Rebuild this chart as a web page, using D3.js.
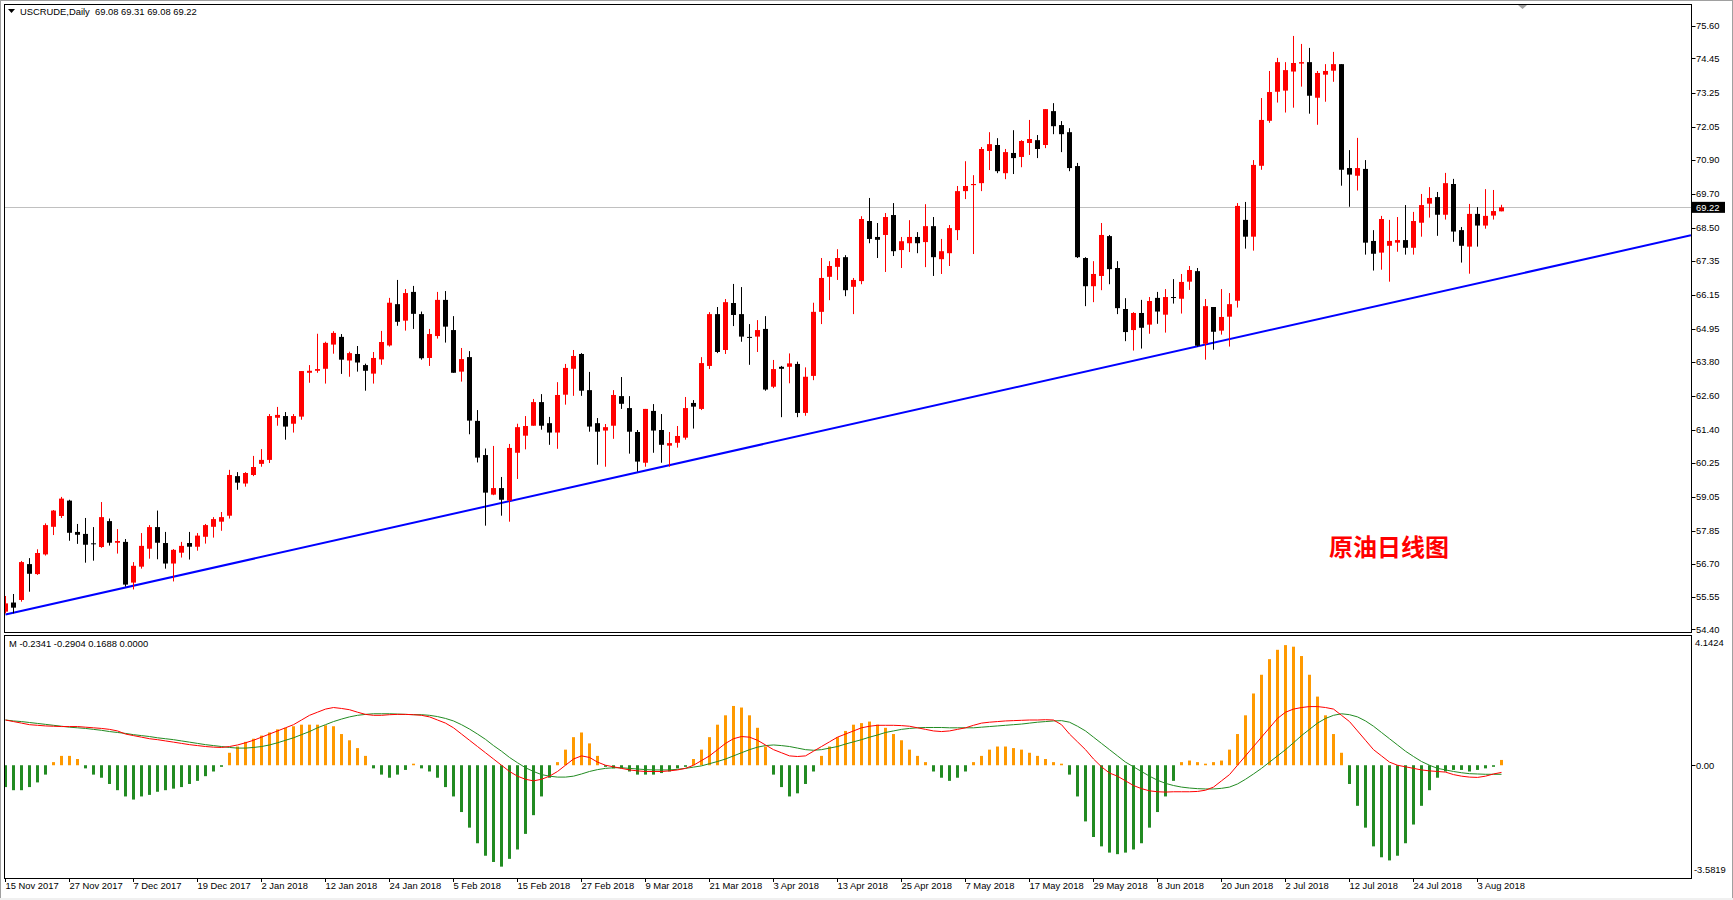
<!DOCTYPE html>
<html>
<head>
<meta charset="utf-8">
<script src="https://cdn.jsdelivr.net/npm/d3@7"></script>
<style>
  body { margin: 0; background: #ffffff; }
  svg { display: block; }
  text { font-family: "Liberation Sans", "DejaVu Sans", sans-serif; font-size: 9.4px; fill: #000; white-space: pre; }
</style>
</head>
<body>
<svg id="chart" width="1733" height="900"></svg>
<script>
// USCRUDE daily candles, 15 Nov 2017 .. 8 Aug 2018
const opens = [
  55.02,55.34,55.43,56.69,56.34,57.03,58.00,58.38,58.92,57.82,
  57.75,57.42,57.29,58.20,57.44,57.47,56.04,56.60,57.23,57.99,
  57.43,56.71,57.09,57.43,57.30,57.65,58.00,58.18,58.39,59.78,
  59.52,59.82,60.21,60.35,61.83,61.89,61.62,61.87,63.41,63.48,
  63.55,64.40,64.67,63.84,64.07,63.68,63.38,63.88,64.37,65.82,
  65.24,66.25,65.47,63.93,64.70,65.97,64.91,63.45,63.96,61.72,
  60.52,59.13,59.36,58.92,60.60,61.20,61.55,62.38,61.64,61.31,
  62.64,63.55,64.07,62.80,61.64,61.38,61.55,62.59,62.17,61.33,
  60.25,62.07,61.40,60.85,60.95,61.13,62.35,62.14,63.65,65.47,
  64.21,65.86,65.47,64.67,64.68,64.95,62.92,63.62,63.62,63.72,
  62.00,63.30,65.55,66.78,67.13,67.47,66.43,66.63,68.74,68.18,
  68.25,68.95,67.72,67.96,68.18,68.00,68.56,67.40,67.61,68.42,
  69.79,70.00,70.07,71.20,71.41,70.42,71.13,70.99,71.48,71.58,
  71.41,72.60,72.11,71.86,70.67,67.44,66.45,66.81,68.21,67.09,
  65.65,64.91,65.51,65.10,66.04,65.45,66.07,66.01,66.61,66.98,
  64.43,65.72,64.89,65.38,65.94,68.78,68.19,70.68,72.26,73.28,
  73.32,73.99,74.27,74.32,73.07,73.88,74.02,74.25,70.60,70.33,
  70.57,68.04,67.63,67.87,67.98,68.07,67.80,68.68,69.35,69.58,
  68.96,70.04,68.42,67.84,68.99,68.58,68.93,69.08
];
const highs = [
  55.57,55.64,56.80,56.90,57.21,58.12,58.59,59.05,58.95,58.10,
  58.31,57.99,58.87,58.29,57.92,57.57,56.76,57.78,58.06,58.57,
  57.82,57.22,57.47,57.82,57.78,58.10,58.34,58.52,60.00,59.92,
  59.92,60.49,60.73,61.96,62.21,62.03,61.96,63.47,63.68,64.78,
  64.50,64.87,64.77,64.15,64.35,63.73,64.14,64.88,66.04,66.67,
  66.35,66.46,65.56,64.95,66.25,66.28,65.40,64.28,64.17,62.10,
  60.75,60.84,59.75,60.91,61.62,61.89,62.49,62.66,61.86,63.08,
  63.72,64.21,64.10,63.44,61.82,61.61,62.80,63.26,62.59,61.40,
  62.14,62.31,61.96,61.33,61.54,62.56,62.45,63.96,65.54,65.72,
  66.00,66.53,66.42,65.12,65.26,65.40,63.86,63.65,64.09,63.80,
  63.60,65.87,67.44,67.33,67.75,67.54,66.74,68.91,69.55,68.67,
  69.02,69.37,68.18,68.77,68.35,69.33,68.88,68.11,68.60,69.97,
  70.84,70.35,71.34,71.86,71.65,71.27,71.93,71.58,72.29,71.76,
  72.67,72.88,72.25,72.00,70.78,67.47,67.33,68.67,68.25,67.33,
  66.03,65.54,65.97,66.07,66.25,66.35,66.70,66.88,67.16,67.09,
  66.00,65.72,66.35,66.21,69.37,69.41,70.88,73.06,74.01,74.47,
  74.32,75.24,74.96,74.82,74.01,74.25,74.68,74.25,71.23,71.66,
  70.88,68.42,68.92,68.78,68.88,69.30,69.06,69.69,69.93,69.76,
  70.43,70.22,68.53,69.34,69.23,69.86,69.83,69.31
];
const lows = [
  54.96,54.96,55.37,55.72,56.31,56.99,57.71,58.31,57.51,57.40,
  56.74,56.81,57.26,57.34,57.06,55.90,55.80,56.53,56.88,56.86,
  56.53,56.08,56.92,56.85,57.16,57.41,57.62,57.86,58.29,59.30,
  59.41,59.78,60.11,60.24,61.55,61.06,61.31,61.76,63.06,63.41,
  63.03,64.08,63.37,63.27,63.45,62.78,63.03,63.69,64.33,65.06,
  64.89,64.95,63.87,63.65,64.61,64.47,63.41,63.10,61.25,60.26,
  58.04,59.11,58.39,58.18,59.68,60.72,61.55,61.41,60.88,60.74,
  62.29,62.60,62.60,61.34,60.18,60.11,61.09,62.14,60.57,59.94,
  60.11,60.60,60.25,60.11,60.78,61.06,61.45,62.10,63.54,64.10,
  64.07,65.05,64.50,63.69,64.14,62.78,62.87,61.85,63.04,61.85,
  61.90,63.15,65.12,65.96,66.67,66.10,65.47,66.52,67.96,67.44,
  66.95,67.51,67.09,67.65,67.61,67.12,66.81,66.88,67.16,68.07,
  69.51,67.58,69.79,70.53,70.42,70.21,70.39,70.63,71.06,70.95,
  71.30,71.79,71.16,70.49,67.44,65.75,65.89,66.31,66.52,65.47,
  64.52,64.19,64.26,64.78,65.13,64.82,65.84,65.49,66.32,64.33,
  63.87,64.22,64.75,64.33,65.70,67.77,67.70,70.54,72.19,72.90,
  72.55,72.72,73.46,72.51,72.12,72.93,73.63,69.98,69.24,69.81,
  67.56,67.00,67.03,66.61,67.66,67.56,67.56,68.19,68.86,68.22,
  68.79,68.01,67.28,66.89,67.84,68.47,68.79,69.08
];
const closes = [
  55.31,55.16,56.76,56.35,57.08,58.06,58.57,58.99,57.79,57.72,
  57.37,57.42,58.34,57.44,57.50,55.97,56.63,57.33,57.99,57.44,
  56.71,57.19,57.33,57.30,57.69,58.06,58.27,58.34,59.82,59.55,
  59.89,60.10,60.35,61.89,61.93,61.52,61.89,63.47,63.48,63.54,
  64.46,64.81,63.87,64.10,63.77,63.48,63.93,64.49,65.87,65.20,
  66.21,65.48,63.92,64.77,65.97,65.03,63.41,63.89,61.73,60.43,
  59.20,59.36,58.95,60.77,61.50,61.54,62.38,61.55,61.31,62.63,
  63.58,64.00,62.78,61.52,61.34,61.50,62.63,62.32,61.34,60.29,
  62.14,61.38,60.88,60.94,61.19,62.17,62.22,63.75,65.47,64.14,
  65.89,65.44,64.68,64.67,64.91,62.82,63.54,63.55,63.74,62.00,
  63.27,65.55,66.74,67.16,67.44,66.31,66.67,68.81,68.11,68.08,
  68.88,67.68,68.03,68.18,67.96,68.56,67.47,67.68,68.49,69.79,
  69.97,70.04,71.27,71.44,70.49,71.16,70.95,71.55,71.62,71.27,
  72.67,72.07,71.79,70.60,67.47,66.45,66.88,68.25,67.05,65.68,
  64.84,65.51,64.99,65.93,65.56,66.07,66.07,66.60,67.02,64.36,
  65.75,64.85,65.37,65.82,69.27,68.19,70.71,72.29,73.27,74.32,
  74.04,74.29,74.32,73.14,73.94,74.01,74.25,70.54,70.37,70.60,
  67.98,67.59,68.81,68.04,68.07,67.80,68.74,69.30,69.55,68.96,
  70.07,68.37,67.87,68.99,68.58,68.92,69.09,69.22
];

// MACD pane: histogram, fast line (red) and signal line (green)
const macdHist = [
  -0.7,-0.8,-0.8,-0.7,-0.55,-0.3,0.1,0.3,0.3,0.2,
  -0.1,-0.3,-0.4,-0.6,-0.8,-1.0,-1.1,-1.0,-0.95,-0.85,
  -0.8,-0.75,-0.7,-0.6,-0.5,-0.35,-0.2,-0.05,0.4,0.6,
  0.75,0.85,0.95,1.05,1.15,1.2,1.25,1.3,1.3,1.3,
  1.28,1.25,1.0,0.8,0.55,0.3,-0.1,-0.3,-0.4,-0.3,
  -0.15,0.05,-0.1,-0.2,-0.4,-0.7,-1.0,-1.5,-2.0,-2.5,
  -2.9,-3.1,-3.25,-3.0,-2.7,-2.2,-1.6,-1.0,-0.4,0.1,
  0.5,0.9,1.05,0.7,0.3,-0.05,-0.1,-0.1,-0.2,-0.3,
  -0.3,-0.3,-0.25,-0.2,-0.1,-0.05,0.2,0.5,0.9,1.3,
  1.6,1.9,1.85,1.6,1.2,0.6,-0.3,-0.7,-1.0,-0.9,
  -0.6,-0.2,0.3,0.6,0.9,1.1,1.3,1.35,1.4,1.3,
  1.2,1.0,0.8,0.5,0.3,0.1,-0.2,-0.4,-0.5,-0.4,
  -0.2,0.1,0.3,0.5,0.6,0.6,0.55,0.5,0.4,0.3,
  0.2,0.1,0.05,-0.3,-1.0,-1.8,-2.3,-2.6,-2.8,-2.85,
  -2.8,-2.7,-2.5,-2.0,-1.5,-1.0,-0.5,0.1,0.15,0.1,
  0.05,0.1,0.15,0.5,1.0,1.6,2.3,2.9,3.4,3.7,
  3.85,3.8,3.5,2.9,2.2,1.6,1.0,0.4,-0.6,-1.3,
  -2.0,-2.6,-2.95,-3.05,-2.9,-2.5,-1.9,-1.3,-0.8,-0.4,
  -0.2,-0.15,-0.15,-0.2,-0.15,-0.1,-0.05,0.17
];
const macdMain = [
  1.45,1.4,1.35,1.3,1.28,1.26,1.25,1.24,1.24,1.24,
  1.22,1.2,1.18,1.15,1.1,1.0,0.95,0.9,0.85,0.82,
  0.78,0.74,0.7,0.66,0.63,0.6,0.58,0.57,0.6,0.65,
  0.72,0.8,0.9,1.0,1.1,1.2,1.3,1.45,1.6,1.7,
  1.8,1.85,1.82,1.78,1.7,1.63,1.6,1.6,1.62,1.63,
  1.63,1.62,1.6,1.55,1.45,1.35,1.2,1.0,0.8,0.6,
  0.4,0.2,0.0,-0.2,-0.35,-0.45,-0.5,-0.45,-0.35,-0.2,
  0.0,0.2,0.3,0.25,0.1,0.0,-0.05,-0.1,-0.15,-0.18,
  -0.2,-0.2,-0.2,-0.18,-0.15,-0.1,0.0,0.15,0.3,0.5,
  0.7,0.85,0.92,0.9,0.8,0.65,0.5,0.4,0.3,0.28,
  0.3,0.45,0.6,0.75,0.9,1.0,1.1,1.2,1.25,1.28,
  1.28,1.28,1.27,1.25,1.2,1.15,1.1,1.08,1.1,1.15,
  1.2,1.28,1.35,1.38,1.4,1.42,1.43,1.44,1.45,1.45,
  1.46,1.45,1.3,1.0,0.75,0.5,0.2,-0.05,-0.25,-0.35,
  -0.5,-0.65,-0.75,-0.82,-0.85,-0.86,-0.85,-0.85,-0.85,-0.84,
  -0.8,-0.7,-0.5,-0.3,0.0,0.3,0.6,0.9,1.2,1.5,
  1.7,1.8,1.85,1.88,1.88,1.85,1.8,1.6,1.4,1.1,
  0.8,0.5,0.3,0.1,0.0,-0.05,-0.1,-0.15,-0.18,-0.2,
  -0.22,-0.3,-0.35,-0.38,-0.39,-0.35,-0.28,-0.23
];
const macdSignal = [
  1.45,1.42,1.4,1.37,1.34,1.31,1.28,1.25,1.22,1.2,
  1.18,1.15,1.12,1.08,1.05,1.02,0.98,0.95,0.92,0.88,
  0.85,0.82,0.78,0.74,0.7,0.66,0.63,0.6,0.57,0.55,
  0.55,0.57,0.6,0.65,0.72,0.8,0.88,0.98,1.08,1.2,
  1.3,1.4,1.48,1.55,1.6,1.63,1.65,1.65,1.65,1.64,
  1.63,1.62,1.62,1.6,1.56,1.5,1.42,1.3,1.16,1.0,
  0.83,0.63,0.45,0.25,0.08,-0.08,-0.2,-0.3,-0.35,-0.38,
  -0.38,-0.35,-0.28,-0.2,-0.14,-0.1,-0.08,-0.08,-0.1,-0.12,
  -0.14,-0.15,-0.15,-0.15,-0.13,-0.1,-0.06,-0.02,0.05,0.12,
  0.2,0.3,0.4,0.5,0.58,0.63,0.65,0.63,0.6,0.55,
  0.5,0.48,0.5,0.55,0.6,0.68,0.75,0.82,0.9,0.97,
  1.05,1.1,1.15,1.18,1.2,1.21,1.21,1.21,1.2,1.2,
  1.2,1.2,1.22,1.24,1.26,1.28,1.3,1.32,1.35,1.38,
  1.4,1.42,1.43,1.38,1.25,1.1,0.9,0.7,0.5,0.3,
  0.1,-0.05,-0.2,-0.35,-0.48,-0.58,-0.65,-0.7,-0.73,-0.75,
  -0.76,-0.76,-0.74,-0.7,-0.6,-0.45,-0.28,-0.1,0.1,0.3,
  0.5,0.72,0.95,1.15,1.35,1.5,1.6,1.65,1.62,1.55,
  1.42,1.25,1.05,0.85,0.65,0.45,0.28,0.12,0.0,-0.1,
  -0.15,-0.2,-0.24,-0.27,-0.28,-0.29,-0.29,-0.29
];

// axis labels
const priceTicks = [75.60,74.45,73.25,72.05,70.90,69.70,68.50,67.35,66.15,64.95,63.80,62.60,61.40,60.25,59.05,57.85,56.70,55.55,54.40];
const dateLabels = ["15 Nov 2017","27 Nov 2017","7 Dec 2017","19 Dec 2017","2 Jan 2018","12 Jan 2018","24 Jan 2018",
  "5 Feb 2018","15 Feb 2018","27 Feb 2018","9 Mar 2018","21 Mar 2018","3 Apr 2018","13 Apr 2018","25 Apr 2018",
  "7 May 2018","17 May 2018","29 May 2018","8 Jun 2018","20 Jun 2018","2 Jul 2018","12 Jul 2018","24 Jul 2018","3 Aug 2018"];
const labelEvery = 8; // one date label every 8 bars
const lastPrice = 69.22;
const headerText = "USCRUDE,Daily  69.08 69.31 69.08 69.22";
const macdText = "M -0.2341 -0.2904 0.1688 0.0000";
const macdRange = [-3.5819, 4.1424];
// support line: two bars it touches
const trendBars = [0, 187];
const trendPrices = [54.92, 66.74];

const n = closes.length;
const candles = d3.range(n).map(i => ({ i, o: opens[i], h: highs[i], l: lows[i], c: closes[i] }));

const W = 1733, H = 900;
const left = 4, right = 1691;
const priceTop = 4, priceBottom = 632;
const macdTop = 635, macdBottom = 878;

const svg = d3.select("#chart");

// window frame
svg.append("rect").attr("x", 0.5).attr("y", 0.5).attr("width", W - 1).attr("height", H - 1)
  .attr("fill", "#fff").attr("stroke", "#a0a0a0");
svg.append("rect").attr("x", 0).attr("y", H - 2).attr("width", W).attr("height", 2).attr("fill", "#f0f0f0");

const x = d3.scaleBand().domain(d3.range(n)).range([1.5, 1.5 + 8 * n]);
const cx = i => x(i) + x.bandwidth() / 2;

const y = d3.scaleLinear().domain([54.40, 75.60]).range([629.3, 25.7]);
const yM = d3.scaleLinear().domain(macdRange).range([macdBottom - 1, macdTop + 1]);

// clip paths for the two panes
const defs = svg.append("defs");
defs.append("clipPath").attr("id", "clipP").append("rect")
  .attr("x", left + 1).attr("y", priceTop + 1).attr("width", right - left - 1).attr("height", priceBottom - priceTop - 1);
defs.append("clipPath").attr("id", "clipM").append("rect")
  .attr("x", left + 1).attr("y", macdTop + 1).attr("width", right - left - 1).attr("height", macdBottom - macdTop - 1);

const gP = svg.append("g").attr("clip-path", "url(#clipP)");
const gM = svg.append("g").attr("clip-path", "url(#clipM)");

// last price line
gP.append("line")
  .attr("x1", left).attr("x2", right)
  .attr("y1", Math.round(y(lastPrice)) + 0.5).attr("y2", Math.round(y(lastPrice)) + 0.5)
  .attr("stroke", "#c0c0c0");

// trend line, extended to the right edge
const slope = (trendPrices[1] - trendPrices[0]) / (trendBars[1] - trendBars[0]);
const iRight = (right - cx(0)) / x.step();
gP.append("line")
  .attr("x1", cx(0)).attr("y1", y(trendPrices[0]))
  .attr("x2", right).attr("y2", y(trendPrices[0] + slope * iRight))
  .attr("stroke", "#0000ff").attr("stroke-width", 2);

// candles
const colorOf = d => d.c > d.o ? "#ff0000" : "#000000";
gP.selectAll(".wick").data(candles).join("line")
  .attr("class", "wick")
  .attr("x1", d => cx(d.i)).attr("x2", d => cx(d.i))
  .attr("y1", d => y(d.h)).attr("y2", d => y(d.l))
  .attr("stroke", colorOf).attr("stroke-width", 1);
gP.selectAll(".body").data(candles).join("rect")
  .attr("class", "body")
  .attr("x", d => cx(d.i) - 2.5)
  .attr("width", 5)
  .attr("y", d => y(Math.max(d.o, d.c)))
  .attr("height", d => Math.max(1, Math.abs(y(d.o) - y(d.c))))
  .attr("fill", colorOf);

// caption on the chart
svg.append("text")
  .attr("x", 1329).attr("y", 556)
  .style("font-family", "'Noto Sans CJK SC', sans-serif")
  .style("font-size", "24px").style("font-weight", "bold")
  .style("fill", "#ff0000")
  .text("原油日线图");

// MACD histogram and lines
gM.selectAll(".hist").data(macdHist).join("rect")
  .attr("class", "hist")
  .attr("x", (d, i) => cx(i) - 1.5)
  .attr("width", 3)
  .attr("y", d => Math.min(yM(d), yM(0)))
  .attr("height", d => Math.abs(yM(d) - yM(0)))
  .attr("fill", d => d >= 0 ? "#ff9900" : "#228b22");

const lineGen = d3.line().x((d, i) => cx(i)).y(d => yM(d));
gM.append("path").datum(macdSignal).attr("d", lineGen)
  .attr("fill", "none").attr("stroke", "#228b22").attr("stroke-width", 1);
gM.append("path").datum(macdMain).attr("d", lineGen)
  .attr("fill", "none").attr("stroke", "#ff0000").attr("stroke-width", 1);

// pane borders
svg.append("rect").attr("x", left + 0.5).attr("y", priceTop + 0.5)
  .attr("width", right - left).attr("height", priceBottom - priceTop)
  .attr("fill", "none").attr("stroke", "#000");
svg.append("rect").attr("x", left + 0.5).attr("y", macdTop + 0.5)
  .attr("width", right - left).attr("height", macdBottom - macdTop)
  .attr("fill", "none").attr("stroke", "#000");

// price axis
const pAxis = svg.append("g");
pAxis.selectAll(".pt").data(priceTicks).join("line")
  .attr("x1", right + 0.5).attr("x2", right + 4.5)
  .attr("y1", d => Math.round(y(d)) + 0.5).attr("y2", d => Math.round(y(d)) + 0.5)
  .attr("stroke", "#000");
pAxis.selectAll(".pl").data(priceTicks).join("text")
  .attr("x", right + 5).attr("y", d => y(d)).attr("dy", "0.35em")
  .text(d => d.toFixed(2));

// last price tag
svg.append("rect").attr("x", right + 1).attr("y", y(lastPrice) - 5.5)
  .attr("width", 33).attr("height", 11).attr("fill", "#000");
svg.append("text").attr("x", right + 5).attr("y", y(lastPrice)).attr("dy", "0.35em")
  .style("fill", "#fff").text(lastPrice.toFixed(2));

// MACD axis
svg.append("line").attr("x1", right + 0.5).attr("x2", right + 4.5)
  .attr("y1", Math.round(yM(0)) + 0.5).attr("y2", Math.round(yM(0)) + 0.5).attr("stroke", "#000");
svg.append("text").attr("x", right + 5).attr("y", yM(0)).attr("dy", "0.35em").text("0.00");
svg.append("text").attr("x", right + 4).attr("y", macdTop + 8).attr("dy", "0.35em").text(macdRange[1].toFixed(4));
svg.append("text").attr("x", right + 3).attr("y", macdBottom - 8).attr("dy", "0.35em").text(macdRange[0].toFixed(4));

// date axis
const dAxis = svg.append("g");
dateLabels.forEach((lab, k) => {
  const xi = Math.round(cx(k * labelEvery)) - 0.5;
  dAxis.append("line").attr("x1", xi).attr("x2", xi)
    .attr("y1", macdBottom).attr("y2", macdBottom + 4).attr("stroke", "#000");
  dAxis.append("text").attr("x", xi).attr("y", macdBottom + 8).attr("dy", "0.35em").text(lab);
});

// headers
svg.append("path").attr("d", "M8,9 L15,9 L11.5,13 Z").attr("fill", "#000");
svg.append("text").attr("x", 20).attr("y", 12).attr("dy", "0.35em").text(headerText);
svg.append("text").attr("x", 9).attr("y", 644).attr("dy", "0.35em").text(macdText);

// chart shift marker
svg.append("path").attr("d", "M1518,5 L1527,5 L1522.5,9 Z").attr("fill", "#a0a0a0");
</script>
</body>
</html>
